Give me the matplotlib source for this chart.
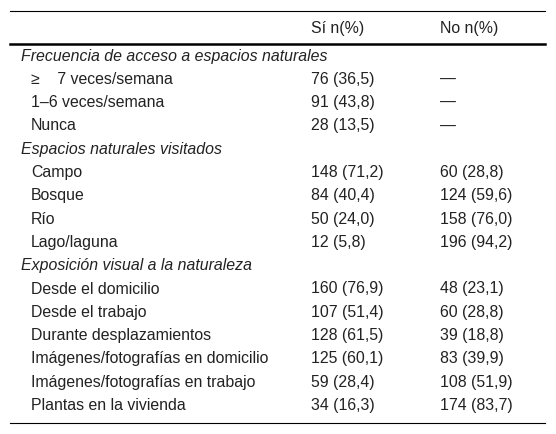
import matplotlib
matplotlib.use("Agg")
import matplotlib.pyplot as plt

headers = ["", "Sí n(%)", "No n(%)"]
rows = [
    ("sec", "Frecuencia de acceso a espacios naturales", "", ""),
    ("item", "≥    7 veces/semana", "76 (36,5)", "—"),
    ("item", "1–6 veces/semana", "91 (43,8)", "—"),
    ("item", "Nunca", "28 (13,5)", "—"),
    ("sec", "Espacios naturales visitados", "", ""),
    ("item", "Campo", "148 (71,2)", "60 (28,8)"),
    ("item", "Bosque", "84 (40,4)", "124 (59,6)"),
    ("item", "Río", "50 (24,0)", "158 (76,0)"),
    ("item", "Lago/laguna", "12 (5,8)", "196 (94,2)"),
    ("sec", "Exposición visual a la naturaleza", "", ""),
    ("item", "Desde el domicilio", "160 (76,9)", "48 (23,1)"),
    ("item", "Desde el trabajo", "107 (51,4)", "60 (28,8)"),
    ("item", "Durante desplazamientos", "128 (61,5)", "39 (18,8)"),
    ("item", "Imágenes/fotografías en domicilio", "125 (60,1)", "83 (39,9)"),
    ("item", "Imágenes/fotografías en trabajo", "59 (28,4)", "108 (51,9)"),
    ("item", "Plantas en la vivienda", "34 (16,3)", "174 (83,7)"),
]

W, H = 556, 434
fig = plt.figure(figsize=(W/100, H/100), dpi=100)
ax = fig.add_axes([0, 0, 1, 1])
ax.set_xlim(0, W); ax.set_ylim(H, 0); ax.axis("off")
fs = 11.4
fam = "Liberation Sans"
tc = "#222222"

ax.plot([10, 545], [11, 11], color="black", lw=0.8)
ax.plot([10, 545], [44, 44], color="black", lw=1.8)
ax.plot([10, 545], [423, 423], color="black", lw=0.8)
ax.text(311, 28, headers[1], fontsize=fs, family=fam, va="center", color=tc)
ax.text(440, 28, headers[2], fontsize=fs, family=fam, va="center", color=tc)

y0, dy = 56, 23.3
for i, (kind, lab, a, b) in enumerate(rows):
    y = y0 + i * dy
    if kind == "sec":
        ax.text(21, y, lab, fontsize=fs, family=fam, style="italic", va="center", color=tc)
    else:
        ax.text(31, y, lab, fontsize=fs, family=fam, va="center", color=tc)
        ax.text(311, y, a, fontsize=fs, family=fam, va="center", color=tc)
        ax.text(440, y, b, fontsize=fs, family=fam, va="center", color=tc)

fig.savefig("out.png", dpi=100)
